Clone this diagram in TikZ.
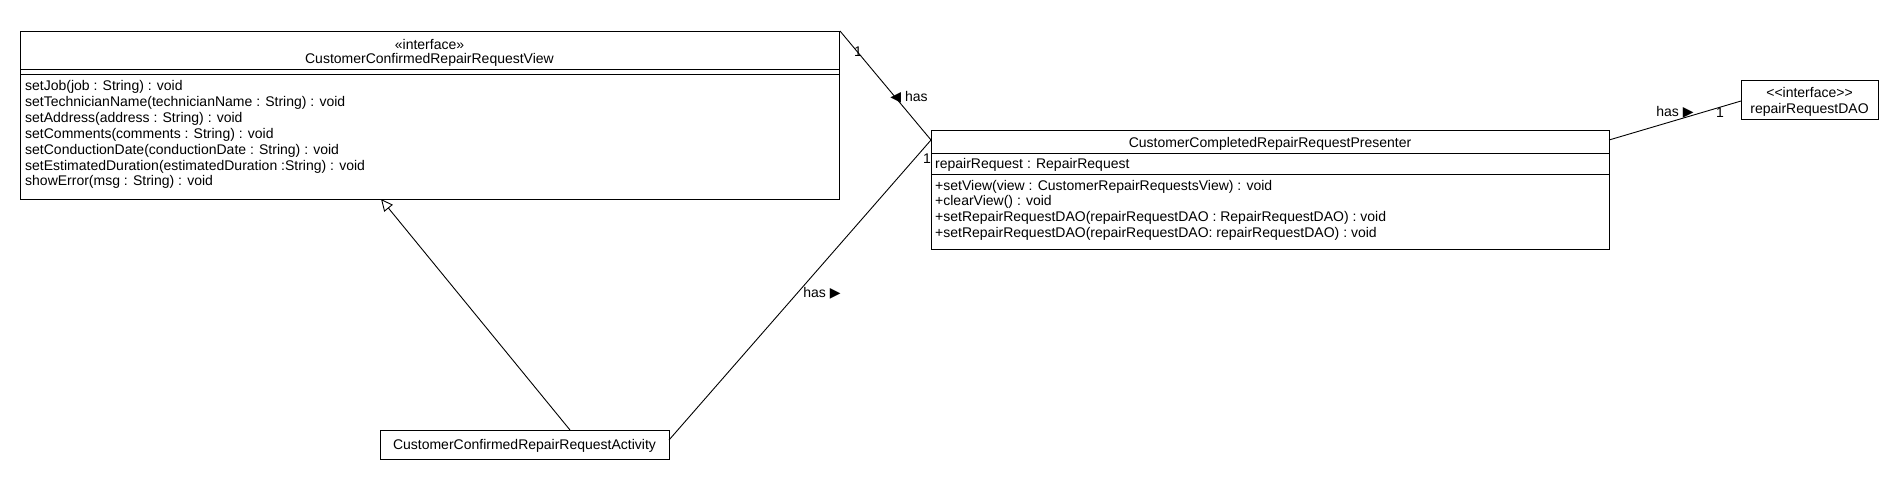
\documentclass[tikz,border=0pt]{standalone}
\usepackage{fontspec}
\setmainfont{Liberation Sans}
\newfontfamily\symfont{DejaVu Sans}
\usetikzlibrary{arrows.meta}
\begin{document}
\begin{tikzpicture}[x=1pt,y=-1pt,
  box/.style={draw, line width=1pt, inner sep=0pt, anchor=north west},
  txt/.style={inner sep=0pt, font=\fontsize{14}{16}\selectfont},
  conn/.style={line width=0.9pt},
  rule/.style={line width=1pt}]
\useasboundingbox[fill=white] (0,0) rectangle (1900,480);

% interface view
\node[box, minimum width=819pt, minimum height=168pt] (view) at (20,31) {};
\draw[rule] (20,69) -- (839,69);
\draw[rule] (20,74) -- (839,74);
\node[txt, anchor=base] (vster) at (429.5,49) {«interface»};
\node[txt, anchor=base] (vname) at (429.5,63.5) {CustomerConfirmedRepairRequestView};
\foreach \t [count=\i] in {setJob(job : String) : void,
  setTechnicianName(technicianName : String) : void,
  setAddress(address : String) : void,
  setComments(comments : String) : void,
  setConductionDate(conductionDate : String) : void,
  setEstimatedDuration(estimatedDuration :String) : void,
  showError(msg : String) : void}
  \node[txt, anchor=base west] (vm\i) at (25,{90.5+15.9*(\i-1)}) {\t};

% presenter
\node[box, minimum width=678pt, minimum height=119pt] (pres) at (931,130) {};
\draw[rule] (931,153) -- (1609,153);
\draw[rule] (931,174) -- (1609,174);
\node[txt, anchor=base] (pname) at (1270,147) {CustomerCompletedRepairRequestPresenter};
\node[txt, anchor=base west] (pattr) at (935,168) {repairRequest : RepairRequest};
\foreach \t [count=\i] in {+setView(view : CustomerRepairRequestsView) : void,
  +clearView() : void,
  +setRepairRequestDAO(repairRequestDAO : RepairRequestDAO) : void,
  +setRepairRequestDAO(repairRequestDAO: repairRequestDAO) : void}
  \node[txt, anchor=base west] (pm\i) at (935,{190+15.9*(\i-1)}) {\t};

% DAO interface
\node[box, minimum width=137pt, minimum height=39pt] (dao) at (1741,80) {};
\node[txt, anchor=base] (dster) at (1809.5,97) {<\kern0pt<interface>\kern0pt>};
\node[txt, anchor=base] (dname) at (1809.5,113) {repairRequestDAO};

% activity
\node[box, minimum width=289pt, minimum height=29pt] (act) at (380,430) {};
\node[txt, anchor=base] (aname) at (524.5,449.5) {CustomerConfirmedRepairRequestActivity};

% connector end points
\coordinate (pv) at (931,140);
\coordinate (ar) at (669,440);
\coordinate (vb) at (381,199);
\coordinate (at) at (570,430);
\coordinate (pr) at (1609,140);
\coordinate (dl) at (1741,101);

\draw[conn] (view.north east) -- (pv);
\draw[conn] (ar) -- (pv);
\draw[conn, -{Triangle[open,length=12pt,width=11pt,line width=0.9pt]}] (at) -- (vb);
\draw[conn] (pr) -- (dl);

% labels
\node[txt] (m1) at (858,52) {1};
\node[txt] (h1) at (909,97) {{\symfont ◀} has};
\node[txt] (m2) at (927,159) {1};
\node[txt] (h2) at (822,293) {has {\symfont ▶}};
\node[txt] (h3) at (1675,112) {has {\symfont ▶}};
\node[txt] (m3) at (1720,113) {1};
\end{tikzpicture}
\end{document}
